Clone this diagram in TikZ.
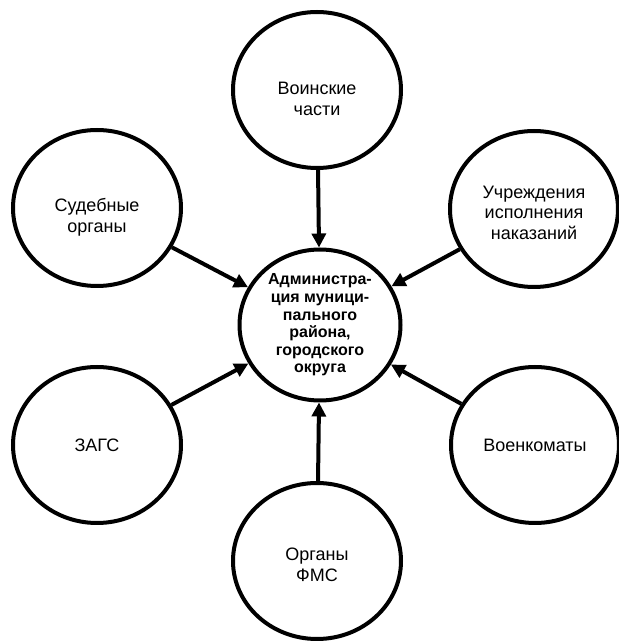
\documentclass[tikz,border=0pt]{standalone}
\usepackage{fontspec}
\setmainfont{Liberation Sans}
\usetikzlibrary{shapes.geometric}
\usetikzlibrary{arrows.meta}

\newcommand{\podnyat}[1]{\rule{0pt}{#1}}

\begin{document}
\begin{tikzpicture}[x=1pt,y=1pt,
    krug/.style={draw,ellipse,line width=4pt,minimum width=168pt,minimum height=156pt,inner sep=0pt,align=center,font=\fontsize{18}{20.5}\selectfont},
    strelka/.style={line width=4pt,-{Triangle[length=14pt,width=14pt]}}]
            \useasboundingbox (0,0) rectangle (619,641);
            \node[krug,minimum width=161pt,minimum height=151pt,font=\bfseries\fontsize{16}{17.6}\selectfont] (adm) at (320,316) {Администра-\\ция муници-\\пального\\района,\\городского\\округа};
            \node[krug] (voin) at (317,551) {\podnyat{30pt}Воинские\\части};
            \node[krug] (sud) at (97,433) {\podnyat{32pt}Судебные\\органы};
            \node[krug] (uchr) at (534,432) {\podnyat{20pt}Учреждения\\исполнения\\наказаний};
            \node[krug] (zags) at (97,196) {ЗАГС};
            \node[krug] (voenk) at (535,196) {Военкоматы};
            \node[krug] (fms) at (317,80) {\podnyat{20pt}Органы\\ФМС};
            \draw[strelka] (voin) -- (adm);
            \draw[strelka] (sud) -- (adm);
            \draw[strelka] (uchr) -- (adm);
            \draw[strelka] (zags) -- (adm);
            \draw[strelka] (voenk) -- (adm);
            \draw[strelka] (fms) -- (adm);
        \end{tikzpicture}
\end{document}
